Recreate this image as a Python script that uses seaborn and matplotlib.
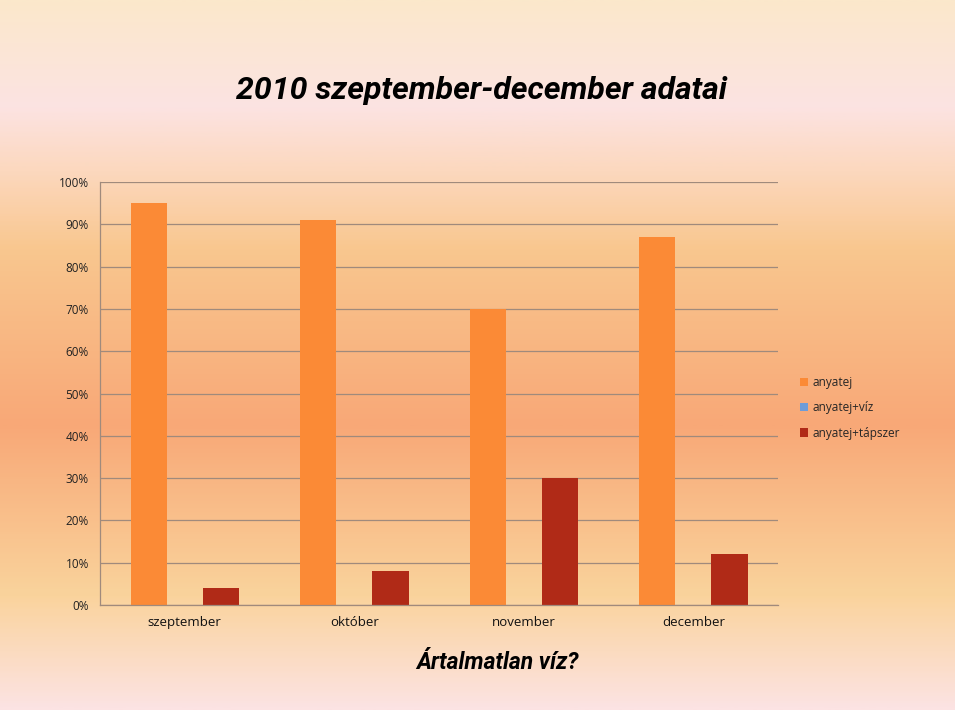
import numpy as np
import pandas as pd
import matplotlib
matplotlib.use("Agg")
import matplotlib.pyplot as plt
import seaborn as sns
from matplotlib.colors import LinearSegmentedColormap
from matplotlib.patches import Patch

# data
months = ["szeptember", "október", "november", "december"]
series = ["anyatej", "anyatej+víz", "anyatej+tápszer"]
anyatej = [95, 91, 70, 87]
anyatej_viz = [0, 0, 0, 0]
anyatej_tapszer = [4, 8, 30, 12]
yticks = [0, 10, 20, 30, 40, 50, 60, 70, 80, 90, 100]

df = pd.DataFrame({
    "honap": months * 3,
    "sorozat": [series[0]] * 4 + [series[1]] * 4 + [series[2]] * 4,
    "ertek": anyatej + anyatej_viz + anyatej_tapszer,
})

colors = ["#FB8A36", "#6E9CD8", "#B02A17"]

sns.set_style("white")
plt.rcParams["font.family"] = ["Open Sans", "DejaVu Sans"]

fig = plt.figure(figsize=(9.6, 7.16), dpi=100)
fig.patch.set_facecolor("white")

# background gradient (slide)
bg = fig.add_axes([0, 0, 0.994, 1], zorder=-10)
bg_cmap = LinearSegmentedColormap.from_list("bg", [
    (0.0, "#FBE8CB"), (0.15, "#FCE3E2"), (0.24, "#FCD8BE"),
    (0.35, "#F9C78F"), (0.6, "#F8A877"), (0.84, "#FAD39C"),
    (1.0, "#FCE3E3")])
grad = np.linspace(0, 1, 400).reshape(-1, 1)
bg.imshow(grad, aspect="auto", cmap=bg_cmap, extent=[0, 1, 0.008, 1])
bg.set_xlim(0, 1)
bg.set_ylim(0, 1)
bg.axis("off")

ax = fig.add_axes([0.1042, 0.155, 0.7063, 0.5908])
ax.set_facecolor("none")
sns.barplot(data=df, x="honap", y="ertek", hue="sorozat", palette=colors,
            width=0.64, saturation=1, linewidth=0, ax=ax, legend=False)

ax.set_ylim(0, 100)
ax.set_xlim(-0.5, 3.5)
ax.set_yticks(yticks)
ax.set_yticklabels([f"{v}%" for v in yticks], fontsize=8.5, color="#222222")
ax.yaxis.grid(True, color="#A08A7C", linewidth=0.9)
ax.set_axisbelow(True)
ax.set_xlabel("")
ax.set_ylabel("")
ax.set_xticks(range(4))
ax.set_xticklabels(months, fontsize=9.5, color="#111111")
ax.tick_params(axis="x", length=0, pad=8)
ax.set_xticks([-0.5, 0.5, 1.5, 2.5, 3.5], minor=True)
ax.tick_params(axis="x", which="minor", length=5, color="#A08A7C", direction="out")
ax.tick_params(axis="y", length=5, color="#A08A7C", direction="out", pad=3)
for s in ["top", "right"]:
    ax.spines[s].set_visible(False)
for s in ["left", "bottom"]:
    ax.spines[s].set_color("#A08A7C")
    ax.spines[s].set_linewidth(0.9)

handles = [Patch(facecolor=c, edgecolor="none", label=l) for c, l in zip(colors, series)]
fig.legend(handles=handles, loc="upper left", bbox_to_anchor=(0.822, 0.49),
           frameon=False, fontsize=8.5, handlelength=0.7, handleheight=0.7,
           handletextpad=0.4, labelspacing=1.05)

title_font = ["Roboto", "DejaVu Sans"]
fig.text(0.502, 0.873, "2010 szeptember-december adatai", ha="center", va="center",
         fontsize=23, fontweight="bold", fontstyle="italic", family=title_font,
         color="black")
fig.text(0.518, 0.075, "Ártalmatlan víz?", ha="center", va="center",
         fontsize=16.5, fontweight="bold", fontstyle="italic", family=title_font,
         color="black")

fig.savefig("out.png", dpi=100)
